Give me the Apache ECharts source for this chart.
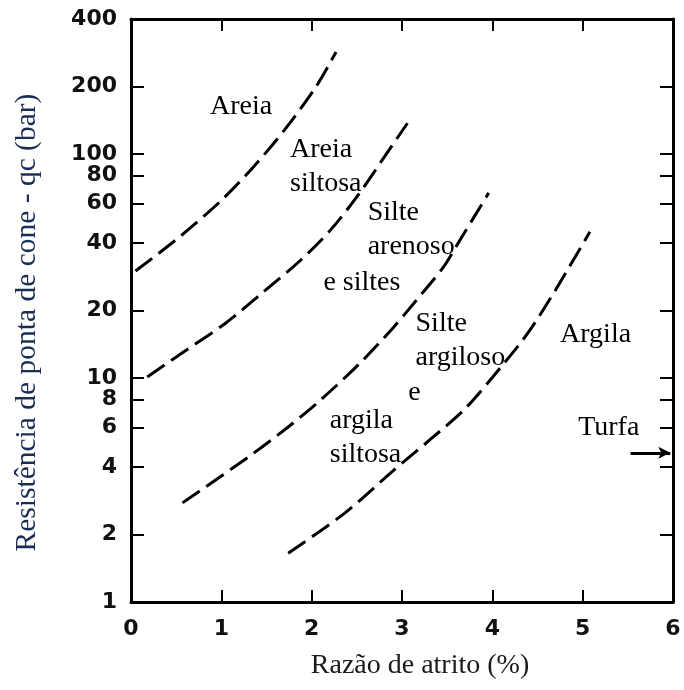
<!DOCTYPE html>
<html><head><meta charset="utf-8">
<script src="https://cdn.jsdelivr.net/npm/echarts@6/dist/echarts.min.js"></script>
<style>html,body{margin:0;padding:0;background:#fff}#c{width:684px;height:690px}</style>
</head><body><div id="c"></div>
<script>
// Boundary curves: [razão de atrito %, qc bar]
const curveAreia = [[0.05,30],[0.55,43],[1.0,62],[1.35,87],[1.7,128],[2.05,200],[2.27,285]];
const curveAreiaSiltosa = [[0.18,10.1],[0.61,13.3],[1.05,17.6],[1.45,23.9],[1.88,33.6],[2.21,45.8],[2.52,66],[2.82,99],[3.06,137]];
const curveSilteArenoso = [[0.57,2.77],[1.30,4.44],[1.74,6.04],[2.10,7.98],[2.54,11.7],[2.91,16.9],[3.15,22],[3.46,31.3],[3.63,40.5],[3.96,67]];
const curveSilteArgiloso = [[1.74,1.65],[2.37,2.5],[2.91,3.88],[3.31,5.3],[3.70,7.3],[4.12,11.5],[4.40,16.0],[4.70,24.7],[5.08,44.9]];
const curves = [curveAreia, curveAreiaSiltosa, curveSilteArenoso, curveSilteArgiloso];

const xTicks = [0,1,2,3,4,5,6];
const yTicks = [1,2,4,6,8,10,20,40,60,80,100,200,400];
const yTickMarks = [2,4,6,8,10,20,40,60,80,100,200];

const zoneNames = ['Areia','Areia\nsiltosa','Silte\narenoso','e siltes','Silte\nargiloso','e','argila\nsiltosa','Argila','Turfa'];
const zoneX = [0.875,1.76,2.62,2.13,3.15,3.07,2.20,4.75,4.95];
const zoneY = [162,88,46,26.5,14.7,8.57,5.43,15.6,5.98];
const turfaArrow = [[5.53,4.63],[5.97,4.63]];

const xTitle = 'Razão de atrito (%)';
const yTitle = 'Resistência de ponta de cone - qc (bar)';

const chart = echarts.init(document.getElementById('c'), null, {renderer:'canvas'});
const tickFont = {fontFamily:'DejaVu Sans', fontWeight:'bold', fontSize:22, color:'#111'};
const serif = 'Liberation Serif';
const axisLine = {show:true, onZero:false, lineStyle:{color:'#000', width:3}};

const series = curves.map(c => ({
  type:'line', data:c, smooth:0.3, symbol:'none', silent:true,
  lineStyle:{color:'#000', width:3, type:[21,8]}
}));
series.push({
  type:'scatter', symbolSize:0, silent:true, itemStyle:{opacity:1},
  data: zoneNames.map((n,i)=>({value:[zoneX[i], zoneY[i]], name:n})),
  label:{show:true, position:'inside', align:'left', verticalAlign:'middle',
    formatter:p=>p.name, fontFamily:serif, fontSize:28, lineHeight:34, color:'#000',
    textBorderWidth:0}
});
series.push({
  type:'line', data:[], symbol:'none',
  markLine:{silent:true, symbol:['none','arrow'], symbolSize:[9,12],
    lineStyle:{color:'#000', width:3, type:'solid'}, label:{show:false},
    data:[[{coord:turfaArrow[0]},{coord:turfaArrow[1]}]]}
});

chart.setOption({
  animation:false,
  backgroundColor:'#fff',
  grid:{left:131, top:19, right:11, bottom:88, containLabel:false},
  xAxis:[
    {type:'value', min:0, max:6, interval:1, position:'bottom',
     axisLine:axisLine, splitLine:{show:false},
     axisTick:{show:true, inside:true, length:12, lineStyle:{color:'#000', width:2}},
     axisLabel:{...tickFont, margin:16},
     name:xTitle, nameLocation:'middle', nameGap:50,
     nameTextStyle:{fontFamily:serif, fontSize:28, color:'#1a1a1a', padding:[0,0,0,36]}},
    {type:'value', min:0, max:6, interval:1, position:'top',
     axisLine:axisLine, splitLine:{show:false},
     axisTick:{show:true, inside:true, length:12, lineStyle:{color:'#000', width:2}},
     axisLabel:{show:false}}
  ],
  yAxis:[
    {type:'log', logBase:10, min:1, max:400, position:'left',
     axisLine:axisLine, splitLine:{show:false}, minorTick:{show:false},
     axisTick:{show:true, inside:true, length:13, customValues:yTickMarks, lineStyle:{color:'#000', width:2}},
     axisLabel:{...tickFont, margin:14, customValues:yTicks, formatter:v=>String(Math.round(v))},
     name:yTitle, nameLocation:'middle', nameGap:89, nameRotate:90,
     nameTextStyle:{fontFamily:serif, fontSize:29.5, color:'#1c2d55', padding:[0,24,0,0]}},
    {type:'log', logBase:10, min:1, max:400, position:'right',
     axisLine:axisLine, splitLine:{show:false},
     axisTick:{show:true, inside:true, length:13, customValues:yTickMarks, lineStyle:{color:'#000', width:2}},
     axisLabel:{show:false}}
  ],
  series: series
});
</script></body></html>
